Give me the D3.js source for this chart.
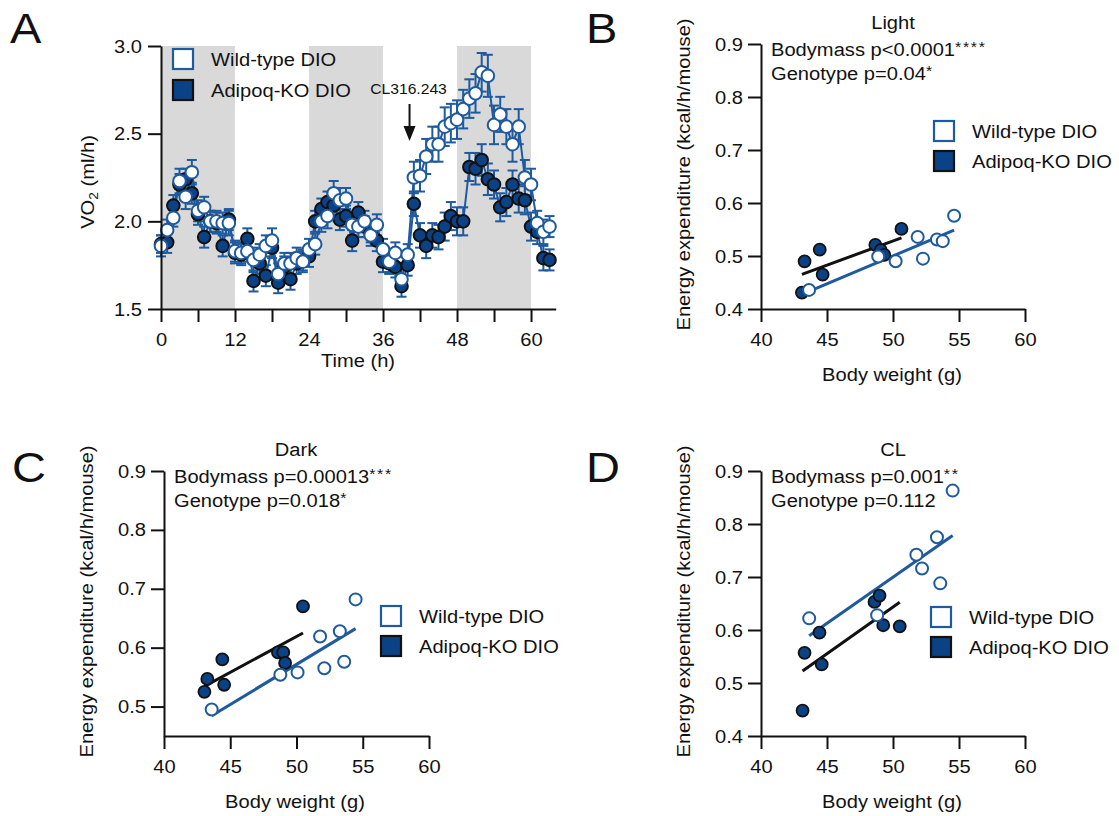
<!DOCTYPE html>
<html>
<head>
<meta charset="utf-8">
<script src="https://cdn.jsdelivr.net/npm/d3@7"></script>
<style>
  body { margin: 0; background: #fff; }
  svg text { font-family: "Liberation Sans", Arial, sans-serif; fill: #111; }
</style>
</head>
<body>
<svg id="fig" width="1119" height="816"></svg>
<script>
// ---------- Panel A: hourly VO2 (ml/h) ----------
const hours = [0,1,2,3,4,5,6,7,8,9,10,11,12,13,14,15,16,17,18,19,20,21,22,23,
  24,25,26,27,28,29,30,31,32,33,34,35,36,37,38,39,40,41,42,43,44,45,46,47,
  48,49,50,51,52,53,54,55,56,57,58,59,60,61,62,63];
const wtVO2 = [1.86,1.95,2.02,2.23,2.14,2.28,2.06,2.08,2.00,2.00,1.99,1.99,
  1.83,1.82,1.83,1.78,1.81,1.86,1.89,1.70,1.76,1.76,1.79,1.77,
  1.84,1.87,2.00,2.03,2.16,2.12,2.13,1.98,1.97,2.00,1.92,1.98,
  1.84,1.77,1.82,1.67,1.81,2.25,2.26,2.37,2.44,2.44,2.54,2.56,
  2.58,2.64,2.70,2.73,2.85,2.83,2.55,2.61,2.54,2.44,2.54,2.25,2.21,1.99,1.94,1.97];
const wtSEM = [.06,.06,.05,.07,.07,.07,.06,.06,.06,.06,.06,.07,
  .06,.06,.06,.07,.06,.06,.07,.06,.06,.06,.06,.06,
  .06,.06,.06,.07,.07,.07,.06,.06,.06,.06,.06,.06,
  .06,.06,.06,.06,.06,.09,.09,.10,.10,.10,.11,.11,
  .11,.11,.11,.11,.11,.12,.11,.10,.10,.10,.10,.10,.09,.07,.07,.06];
const koVO2 = [1.87,1.88,2.09,2.21,2.24,2.16,2.04,1.91,2.00,1.99,1.86,2.01,
  1.82,1.81,1.90,1.66,1.76,1.69,1.85,1.65,1.74,1.67,1.76,1.78,
  1.80,2.00,2.07,2.11,2.09,2.01,2.03,1.89,2.05,1.97,1.94,1.89,
  1.77,1.76,1.74,1.63,1.75,2.10,1.92,1.86,1.92,1.91,1.97,2.03,
  2.00,2.00,2.31,2.30,2.35,2.24,2.21,2.08,2.11,2.21,2.13,2.12,1.97,1.94,1.79,1.78];
const koSEM = [.05,.06,.06,.06,.06,.06,.06,.06,.06,.06,.06,.06,
  .06,.06,.06,.06,.06,.06,.06,.06,.06,.06,.06,.06,
  .06,.06,.06,.06,.06,.06,.06,.06,.06,.06,.06,.06,
  .06,.06,.06,.06,.06,.07,.07,.07,.07,.07,.08,.08,
  .08,.08,.08,.09,.09,.09,.08,.08,.08,.08,.08,.08,.08,.07,.07,.06];
const shadedPhases = [[0,12],[24,36],[48,60]];
const hourTicks = [0,6,12,18,24,30,36,42,48,54,60];
const hourLabels = [0,12,24,36,48,60];
const vo2Ticks = [1.5,2.0,2.5,3.0];
const clInjectionHour = 40.3;

// ---------- Panels B-D: energy expenditure vs body weight ----------
const bwTicks = [40,45,50,55,60];
const eeTicks = [0.4,0.5,0.6,0.7,0.8,0.9];
const eeTicksDark = [0.5,0.6,0.7,0.8,0.9];

const lightWtBW = [43.64,48.88,50.20,51.87,52.27,53.33,53.77,54.63];
const lightWtEE = [0.436,0.499,0.490,0.536,0.495,0.531,0.528,0.576];
const lightKoBW = [43.30,44.45,44.67,43.10,48.66,49.07,49.34,50.64];
const lightKoEE = [0.490,0.512,0.465,0.431,0.521,0.511,0.502,0.551];

const darkWtBW = [43.60,48.78,50.08,51.78,52.10,53.27,53.60,54.46];
const darkWtEE = [0.495,0.554,0.558,0.619,0.565,0.628,0.576,0.682];
const darkKoBW = [43.05,43.27,44.40,44.54,48.60,49.00,49.14,50.49];
const darkKoEE = [0.525,0.547,0.580,0.537,0.592,0.592,0.574,0.670];

const clWtBW = [43.65,48.80,51.77,52.20,53.33,53.58,54.52];
const clWtEE = [0.622,0.628,0.742,0.716,0.775,0.688,0.863];
const clKoBW = [43.15,43.30,44.43,44.60,48.60,48.98,49.26,50.51];
const clKoEE = [0.448,0.557,0.595,0.535,0.653,0.665,0.609,0.607];

const groupNames = ["Wild-type DIO", "Adipoq-KO DIO"];

// ---------- styling ----------
const BLUE = "#1f5a9e";
const NAVY = "#0b4286";
const DARK = "#111";
const SHADE = "#d9d9d9";
const FS = 19;     // base font size
const SX = 1.06;   // horizontal text width factor

const svg = d3.select("#fig");

function stretch(sel, k = SX, rot = 0) {
  sel.each(function () {
    const t = d3.select(this);
    const x = +t.attr("x") || 0, y = +t.attr("y") || 0;
    t.attr("x", 0).attr("y", 0)
     .attr("transform", `translate(${x},${y})` + (rot ? ` rotate(${rot})` : "") + ` scale(${k},1)`);
  });
}
function label(g, x, y, txt, size, anchor = "start", rot = 0, k = SX) {
  const t = g.append("text").attr("x", x).attr("y", y)
    .attr("font-size", size).attr("text-anchor", anchor).text(txt);
  stretch(t, k, rot);
  return t;
}
function styleAxis(g) {
  g.selectAll("path.domain").attr("stroke", DARK).attr("stroke-width", 2);
  g.selectAll(".tick line").attr("stroke", DARK).attr("stroke-width", 2);
  g.selectAll(".tick text").attr("font-size", FS).attr("fill", DARK)
    .attr("font-family", '"Liberation Sans", Arial, sans-serif');
  stretch(g.selectAll(".tick text"));
}
function legend(g, x, y, gap) {
  groupNames.forEach((name, i) => {
    g.append("rect").attr("x", x).attr("y", y + i * gap).attr("width", 20).attr("height", 20)
      .attr("fill", i === 0 ? "#fff" : NAVY)
      .attr("stroke", i === 0 ? BLUE : DARK).attr("stroke-width", 2.2);
    label(g, x + 38, y + i * gap + 17, name, FS);
  });
}
function panelLetter(x, y, s) {
  label(svg, x, y, s, 42, "start", 0, 1.12);
}

// ================= Panel A =================
(function () {
  const g = svg.append("g");
  const x = d3.scaleLinear().domain([0, 64]).range([161, 555.7]);
  const y = d3.scaleLinear().domain([1.5, 3.0]).range([309, 46]);

  g.selectAll("rect.shade").data(shadedPhases).join("rect")
    .attr("x", d => x(d[0])).attr("width", d => x(d[1]) - x(d[0]))
    .attr("y", y(3.0)).attr("height", y(1.5) - y(3.0)).attr("fill", SHADE);

  const series = [
    { v: koVO2, e: koSEM, fill: NAVY, stroke: DARK },
    { v: wtVO2, e: wtSEM, fill: "#fff", stroke: BLUE }
  ];
  const line = d3.line().x((d, i) => x(hours[i])).y(d => y(d));
  series.forEach(s => {
    g.append("path").datum(s.v).attr("d", line)
      .attr("fill", "none").attr("stroke", BLUE).attr("stroke-width", 2);
    const eb = g.append("g").attr("stroke", BLUE).attr("stroke-width", 2);
    s.v.forEach((v, i) => {
      const cx = x(hours[i]);
      eb.append("line").attr("x1", cx).attr("x2", cx).attr("y1", y(v - s.e[i])).attr("y2", y(v + s.e[i]));
      eb.append("line").attr("x1", cx - 5).attr("x2", cx + 5).attr("y1", y(v + s.e[i])).attr("y2", y(v + s.e[i]));
      eb.append("line").attr("x1", cx - 5).attr("x2", cx + 5).attr("y1", y(v - s.e[i])).attr("y2", y(v - s.e[i]));
    });
  });
  series.forEach(s => {
    g.append("g").selectAll("circle").data(s.v).join("circle")
      .attr("cx", (d, i) => x(hours[i])).attr("cy", d => y(d)).attr("r", 6.3)
      .attr("fill", s.fill).attr("stroke", s.stroke).attr("stroke-width", 2);
  });

  const ax = g.append("g").attr("transform", "translate(0,309)")
    .call(d3.axisBottom(x).tickValues(hourTicks)
      .tickFormat(d => hourLabels.includes(d) ? d : "")
      .tickSize(13).tickSizeOuter(0).tickPadding(11));
  styleAxis(ax);
  const ay = g.append("g").attr("transform", "translate(161,0)")
    .call(d3.axisLeft(y).tickValues(vo2Ticks).tickFormat(d3.format(".1f"))
      .tickSize(13).tickSizeOuter(0).tickPadding(6));
  styleAxis(ay);

  label(g, 358, 367, "Time (h)", FS, "middle");
  const yl = g.append("text").attr("x", 94).attr("y", 182).attr("font-size", FS).attr("text-anchor", "middle");
  yl.append("tspan").text("VO");
  yl.append("tspan").attr("font-size", 13).attr("dy", 4).text("2");
  yl.append("tspan").attr("dy", -4).text(" (ml/h)");
  stretch(yl, SX, -90);

  legend(g, 173, 49, 31);

  // CL316,243 injection marker
  const ax0 = x(clInjectionHour);
  label(g, ax0 - 1, 94, "CL316.243", 14.5, "middle", 0, 1.08);
  g.append("line").attr("x1", ax0).attr("x2", ax0).attr("y1", 104).attr("y2", 128)
    .attr("stroke", DARK).attr("stroke-width", 2);
  g.append("path").attr("d", `M${ax0 - 6},126 L${ax0 + 6},126 L${ax0},141 Z`).attr("fill", DARK);

  panelLetter(10, 43, "A");
})();

// ================= Panels B-D =================
function fit(xs, ys) {
  const mx = d3.mean(xs), my = d3.mean(ys);
  let sxy = 0, sxx = 0;
  xs.forEach((v, i) => { sxy += (v - mx) * (ys[i] - my); sxx += (v - mx) * (v - mx); });
  const b = sxy / sxx;
  return v => my + b * (v - mx);
}

function scatterPanel(c) {
  const g = svg.append("g");
  const x = d3.scaleLinear().domain([40, 60]).range(c.xr);
  const y = d3.scaleLinear().domain(c.yDomain).range(c.yr);
  const x0 = c.xr[0];

  const ax = g.append("g").attr("transform", `translate(0,${c.yr[0]})`)
    .call(d3.axisBottom(x).tickValues(bwTicks).tickSize(13).tickSizeOuter(0).tickPadding(11));
  styleAxis(ax);
  const ay = g.append("g").attr("transform", `translate(${x0},0)`)
    .call(d3.axisLeft(y).tickValues(c.yTicks).tickFormat(d3.format(".1f"))
      .tickSize(13).tickSizeOuter(0).tickPadding(5));
  styleAxis(ay);

  // regression lines
  const groups = [
    { bw: c.ko[0], ee: c.ko[1], col: DARK },
    { bw: c.wt[0], ee: c.wt[1], col: BLUE }
  ];
  groups.forEach(gr => {
    const f = fit(gr.bw, gr.ee);
    const lo = d3.min(gr.bw), hi = d3.max(gr.bw);
    g.append("line").attr("x1", x(lo)).attr("x2", x(hi)).attr("y1", y(f(lo))).attr("y2", y(f(hi)))
      .attr("stroke", gr.col).attr("stroke-width", 3);
  });

  // points
  g.append("g").selectAll("circle").data(c.ko[0]).join("circle")
    .attr("cx", d => x(d)).attr("cy", (d, i) => y(c.ko[1][i])).attr("r", 6)
    .attr("fill", NAVY).attr("stroke", DARK).attr("stroke-width", 1.8);
  g.append("g").selectAll("circle").data(c.wt[0]).join("circle")
    .attr("cx", d => x(d)).attr("cy", (d, i) => y(c.wt[1][i])).attr("r", 6)
    .attr("fill", "#fff").attr("stroke", BLUE).attr("stroke-width", 2);

  // titles and statistics
  label(g, x0 + 132, c.yr[1] - 15, c.title, FS, "middle");
  c.stats.forEach((s, i) => {
    const t = g.append("text").attr("x", x0 + 10).attr("y", c.yr[1] + 12 + i * 24).attr("font-size", FS);
    t.append("tspan").text(s[0]);
    if (s[1]) t.append("tspan").attr("font-size", 15).attr("dy", -4).attr("letter-spacing", 1.6).text(s[1]);
    stretch(t);
  });

  label(g, x0 + 131, c.yr[0] + 72, "Body weight (g)", FS, "middle");
  label(g, x0 - 71, (c.yr[0] + c.yr[1]) / 2 - 2, "Energy expenditure (kcal/h/mouse)", FS, "middle", -90);

  legend(g, c.leg[0], c.leg[1], 30);
  panelLetter(c.letter[0], c.letter[1], c.letter[2]);
}

scatterPanel({
  xr: [761, 1025], yr: [309, 44], yDomain: [0.4, 0.9], yTicks: eeTicks,
  title: "Light",
  stats: [["Bodymass p<0.0001", "****"], ["Genotype p=0.04", "*"]],
  wt: [lightWtBW, lightWtEE], ko: [lightKoBW, lightKoEE],
  leg: [934, 121], letter: [586, 43, "B"]
});
scatterPanel({
  xr: [164, 429], yr: [736, 471], yDomain: [0.45, 0.9], yTicks: eeTicksDark,
  title: "Dark",
  stats: [["Bodymass p=0.00013", "***"], ["Genotype p=0.018", "*"]],
  wt: [darkWtBW, darkWtEE], ko: [darkKoBW, darkKoEE],
  leg: [381, 606], letter: [12, 482, "C"]
});
scatterPanel({
  xr: [761, 1025], yr: [736, 471], yDomain: [0.4, 0.9], yTicks: eeTicks,
  title: "CL",
  stats: [["Bodymass p=0.001", "**"], ["Genotype p=0.112", ""]],
  wt: [clWtBW, clWtEE], ko: [clKoBW, clKoEE],
  leg: [931, 607], letter: [586, 482, "D"]
});
</script>
</body>
</html>
